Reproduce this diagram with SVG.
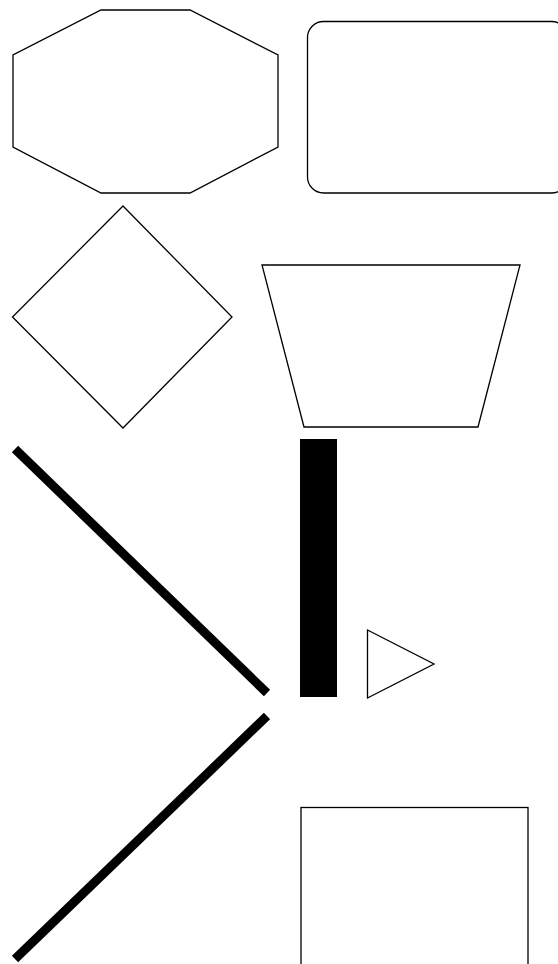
<svg xmlns="http://www.w3.org/2000/svg" width="558" height="964" viewBox="0 0 558 964">
<style>
.s{fill:#fff;stroke:#000;stroke-width:1.3}
.t{stroke:#000;stroke-width:9;stroke-linecap:butt;fill:none}
</style>
<rect width="558" height="964" fill="#fff"/>
<g id="octagon"><polygon class="s" points="101,10 190,10 278,55 278,147 190,193 101,193 13,147 13,55"/></g>
<g id="roundrect"><rect class="s" x="307.5" y="21.5" width="260" height="171.5" rx="16"/></g>
<g id="diamond"><polygon class="s" points="123,206 232,317 123,428 12.5,317"/></g>
<g id="trapezoid"><polygon class="s" points="262,265 520,265 478,427 304,427"/></g>
<g id="bar"><rect x="300" y="439" width="37" height="258" fill="#000"/></g>
<g id="triangle"><polygon class="s" points="367.5,630 434,664 367.5,698"/></g>
<g id="box"><rect class="s" x="301" y="807.5" width="227" height="170"/></g>
<g id="connectors">
<line class="t" x1="15" y1="449" x2="267" y2="693"/>
<line class="t" x1="267" y1="716" x2="15" y2="959"/>
</g>
</svg>
